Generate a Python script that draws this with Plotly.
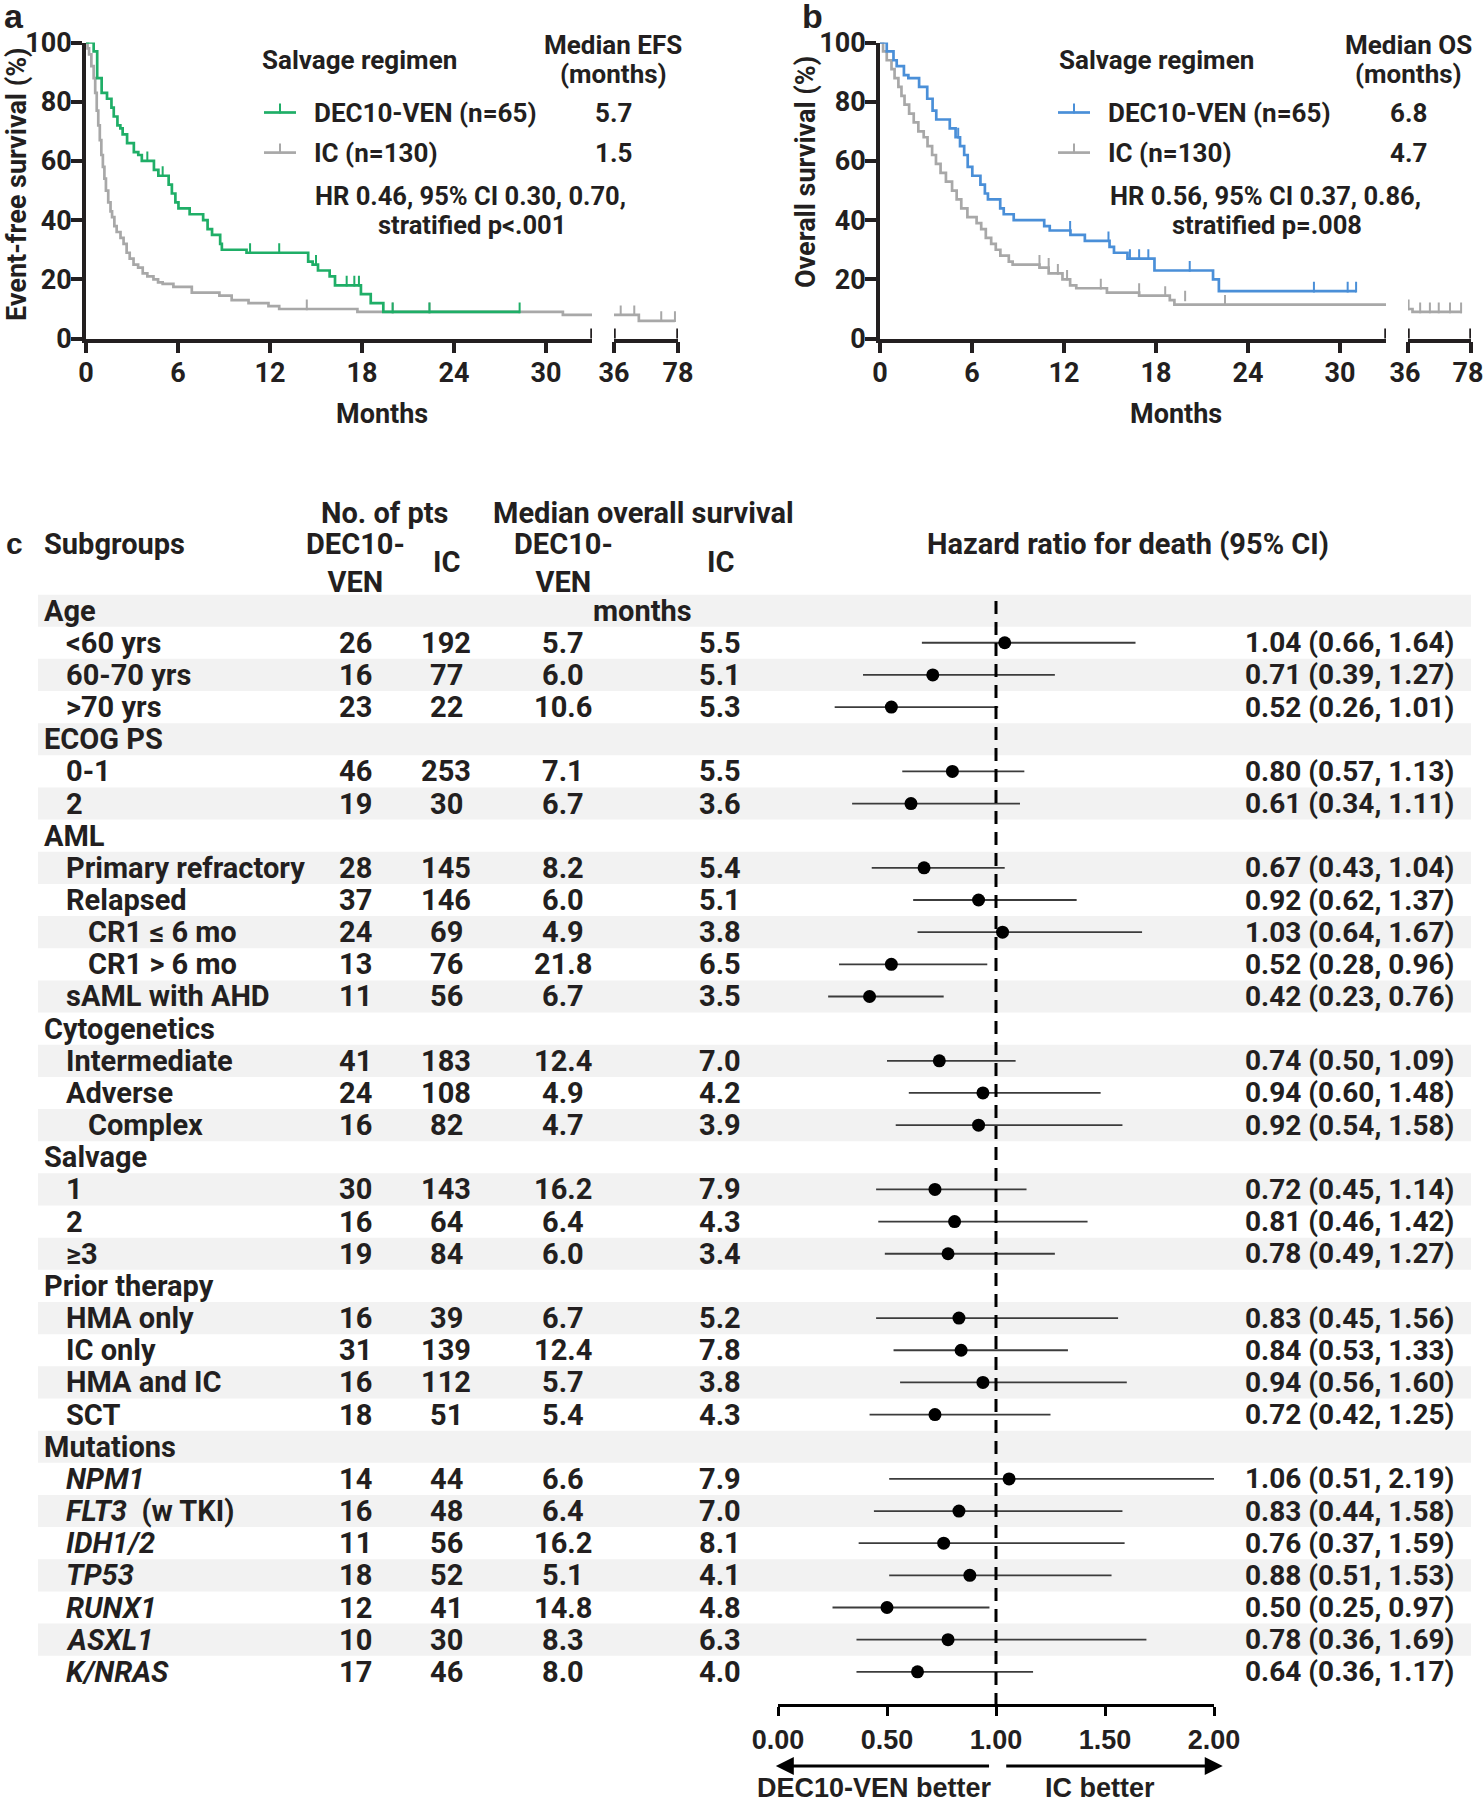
import plotly.graph_objects as go

# canvas size in px, layout below is placed in px and converted to paper units
W, H = 1484, 1800
INK = '#231f20'
GREEN = '#1fae67'
BLUE = '#4a8fd8'
GREY = '#a8a8a8'
BAND = '#f2f2f2'
NARROW = 'Roboto, Liberation Sans, sans-serif'
WIDE = 'Liberation Sans, Arial, sans-serif'


def px(x):
    return x / W


def py(y):
    return 1 - y / H


# ---- panel a: event-free survival (months, %) ----
efs_dec_t = [0, 0.5, 0.73, 1.02, 1.37, 1.66, 1.81, 2.05, 2.24, 2.39, 2.68, 3.12, 3.41, 3.64, 4.43,
             4.72, 5.39, 5.6, 5.83, 6.03, 6.76, 7.64, 7.93, 8.22, 8.75, 8.86, 10.47, 14.49, 14.78,
             15.13, 15.89, 16.24, 17.93, 18.57, 19.39, 28.28]
efs_dec_s = [100, 97, 88, 83, 81, 78, 75, 72, 71, 69, 66, 63, 62, 60, 57,
             55, 52, 49, 46, 44, 42, 40, 37, 35, 32, 30, 29, 26, 25,
             23, 21, 18, 15, 12, 9, 9]
efs_dec_cens_t = [4.0, 5.0, 10.7, 12.6, 15.0, 17.0, 17.5, 17.8, 20.0, 22.4, 28.28]
efs_dec_cens_s = [60, 55, 29, 29, 25, 18, 18, 18, 9, 9, 9]

efs_ic_t = [0, 0.1, 0.2, 0.35, 0.5, 0.6, 0.7, 0.8, 0.9, 1.0, 1.1, 1.2, 1.3, 1.45, 1.6, 1.7, 1.85,
            2.0, 2.25, 2.45, 2.65, 2.85, 3.1, 3.4, 3.7, 4.0, 4.4, 4.7, 5.0, 5.7, 6.9, 8.7, 9.5,
            10.6, 11.9, 12.6, 17.7, 31.1, 52.3, 76]
efs_ic_s = [100, 98, 96, 92, 88, 83, 77, 72, 67, 62, 58, 54, 50, 46, 43, 41, 38,
            36, 34, 32, 29, 27, 25, 24, 22, 21, 20, 19, 18.5, 17.5, 15.5, 14.5, 13,
            12, 11, 10, 9, 8, 6, 6]
efs_ic_cens_t = [14.4, 20.0, 22.4, 40.4, 49.3, 67, 76]
efs_ic_cens_s = [10, 9, 9, 8, 8, 6, 6]

# ---- panel b: overall survival (months, %) ----
os_dec_t = [0, 0.44, 0.88, 1.09, 1.56, 1.85, 2.55, 3.08, 3.43, 3.67, 4.55, 4.93, 5.22, 5.49, 5.72,
            6.02, 6.55, 6.84, 7.04, 7.84, 8.07, 8.72, 10.71, 11.07, 12.42, 13.36, 14.97, 15.26,
            16.14, 17.9, 21.72, 22.1, 31.05]
os_dec_s = [100, 97, 94, 92, 89, 88, 85, 81, 77, 74, 71, 68, 65, 62, 58,
            55, 52, 49, 47, 44, 42, 40, 38, 36.5, 35, 33, 31, 29,
            27, 23, 20, 16, 16]
os_dec_cens_t = [5.1, 6.0, 12.4, 14.9, 16.3, 16.9, 17.5, 20.2, 28.3, 30.5, 31.05]
os_dec_cens_s = [68, 55, 36.5, 33, 27, 27, 27, 23, 16, 16, 16]

os_ic_t = [0, 0.2, 0.44, 0.75, 0.95, 1.2, 1.4, 1.6, 1.9, 2.2, 2.5, 2.85, 3.1, 3.4, 3.65, 3.95, 4.3,
           4.7, 5.0, 5.3, 5.7, 6.3, 6.6, 6.9, 7.25, 7.55, 7.85, 8.4, 8.65, 10.4, 11.0, 11.9, 12.4,
           12.8, 14.8, 16.9, 18.9, 19.2, 35.5, 39.0, 72.0]
os_ic_s = [100, 97, 94, 91, 88, 85, 82, 79, 76, 73, 70, 68, 65, 62, 59, 56, 53,
           50, 47, 44, 41, 39, 37, 34, 32, 30, 28, 26, 25, 24, 22, 20, 18,
           17, 15.5, 14.5, 13, 11.5, 10, 9, 9]
os_ic_cens_t = [10.4, 11.0, 11.6, 12.2, 14.4, 16.9, 18.6, 19.9, 22.5, 36.4, 44.1, 50.6, 56.5, 64, 71.4]
os_ic_cens_s = [25, 24, 22, 20, 17, 15.5, 14.5, 13, 11.5, 10, 9, 9, 9, 9, 9]

# ---- panel c: subgroup forest plot ----
labels = ['Age', '<60 yrs', '60-70 yrs', '>70 yrs', 'ECOG PS', '0-1', '2', 'AML',
          'Primary refractory', 'Relapsed', 'CR1 \u2264 6 mo', 'CR1 > 6 mo', 'sAML with AHD',
          'Cytogenetics', 'Intermediate', 'Adverse', 'Complex', 'Salvage', '1', '2', '\u22653',
          'Prior therapy', 'HMA only', 'IC only', 'HMA and IC', 'SCT', 'Mutations',
          '<i>NPM1</i>', '<i>FLT3</i>\u00a0 (w TKI)', '<i>IDH1/2</i>', '<i>TP53</i>',
          '<i>RUNX1</i>', '<i>ASXL1</i>', '<i>K/NRAS</i>']
levels = [0, 1, 1, 1, 0, 1, 1, 0, 1, 1, 2, 2, 1, 0, 1, 1, 2, 0, 1, 1, 1, 0, 1, 1, 1, 1, 0,
          1, 1, 1, 1, 1, 1, 1]
n_dec = [None, 26, 16, 23, None, 46, 19, None, 28, 37, 24, 13, 11, None, 41, 24, 16, None, 30, 16, 19,
         None, 16, 31, 16, 18, None, 14, 16, 11, 18, 12, 10, 17]
n_ic = [None, 192, 77, 22, None, 253, 30, None, 145, 146, 69, 76, 56, None, 183, 108, 82, None, 143, 64,
        84, None, 39, 139, 112, 51, None, 44, 48, 56, 52, 41, 30, 46]
med_dec = [None, 5.7, 6.0, 10.6, None, 7.1, 6.7, None, 8.2, 6.0, 4.9, 21.8, 6.7, None, 12.4, 4.9, 4.7,
           None, 16.2, 6.4, 6.0, None, 6.7, 12.4, 5.7, 5.4, None, 6.6, 6.4, 16.2, 5.1, 14.8, 8.3, 8.0]
med_ic = [None, 5.5, 5.1, 5.3, None, 5.5, 3.6, None, 5.4, 5.1, 3.8, 6.5, 3.5, None, 7.0, 4.2, 3.9,
          None, 7.9, 4.3, 3.4, None, 5.2, 7.8, 3.8, 4.3, None, 7.9, 7.0, 8.1, 4.1, 4.8, 6.3, 4.0]
hr = [None, 1.04, 0.71, 0.52, None, 0.80, 0.61, None, 0.67, 0.92, 1.03, 0.52, 0.42, None, 0.74, 0.94,
      0.92, None, 0.72, 0.81, 0.78, None, 0.83, 0.84, 0.94, 0.72, None, 1.06, 0.83, 0.76, 0.88, 0.50,
      0.78, 0.64]
hr_lo = [None, 0.66, 0.39, 0.26, None, 0.57, 0.34, None, 0.43, 0.62, 0.64, 0.28, 0.23, None, 0.50, 0.60,
         0.54, None, 0.45, 0.46, 0.49, None, 0.45, 0.53, 0.56, 0.42, None, 0.51, 0.44, 0.37, 0.51, 0.25,
         0.36, 0.36]
hr_hi = [None, 1.64, 1.27, 1.01, None, 1.13, 1.11, None, 1.04, 1.37, 1.67, 0.96, 0.76, None, 1.09, 1.48,
         1.58, None, 1.14, 1.42, 1.27, None, 1.56, 1.33, 1.60, 1.25, None, 2.19, 1.58, 1.59, 1.53, 0.97,
         1.69, 1.17]
hr_ticks = [0, 0.5, 1, 1.5, 2]

rows = list(range(len(labels)))

fig = go.Figure()


def km_traces(t, s, ct, cs, color, xa):
    # step curve plus censor ticks (drawn as one-sided error bars)
    fig.add_trace(go.Scatter(x=t, y=s, mode='lines', line=dict(color=color, width=2.7, shape='hv'),
                             xaxis=xa[0], yaxis=xa[1], showlegend=False, hoverinfo='skip'))
    fig.add_trace(go.Scatter(x=ct, y=cs, mode='markers', marker=dict(size=1, color=color),
                             error_y=dict(type='data', symmetric=False, array=[3.2] * len(ct),
                                          arrayminus=[0.4] * len(ct), width=0, thickness=2, color=color),
                             xaxis=xa[0], yaxis=xa[1], showlegend=False, hoverinfo='skip'))


for xa in [('x', 'y'), ('x2', 'y')]:
    km_traces(efs_ic_t, efs_ic_s, efs_ic_cens_t, efs_ic_cens_s, GREY, xa)
    km_traces(efs_dec_t, efs_dec_s, efs_dec_cens_t, efs_dec_cens_s, GREEN, xa)
for xa in [('x3', 'y2'), ('x4', 'y2')]:
    km_traces(os_ic_t, os_ic_s, os_ic_cens_t, os_ic_cens_s, GREY, xa)
    km_traces(os_dec_t, os_dec_s, os_dec_cens_t, os_dec_cens_s, BLUE, xa)

# forest points with CI whiskers
fig.add_trace(go.Scatter(
    x=hr, y=rows, mode='markers', xaxis='x5', yaxis='y3',
    marker=dict(color='black', size=13),
    error_x=dict(type='data', symmetric=False,
                 array=[None if h is None else round(b - h, 3) for h, b in zip(hr, hr_hi)],
                 arrayminus=[None if h is None else round(h - a, 3) for h, a in zip(hr, hr_lo)],
                 width=0, thickness=1.8, color='#3c3c3c'),
    showlegend=False, hoverinfo='skip'))

tickfont = dict(family=NARROW, size=27, color=INK, weight='bold')
surv_x = dict(showline=True, linewidth=3.5, linecolor=INK, ticks='outside', ticklen=11, tickwidth=3.5,
              tickcolor=INK, showgrid=False, zeroline=False, tickfont=tickfont, fixedrange=True,
              automargin=False, ticklabelstandoff=-4, ticklabeloverflow='allow')
surv_y = dict(range=[0, 100], tickvals=[0, 20, 40, 60, 80, 100], showline=True, linewidth=3.5,
              linecolor=INK, ticks='outside', ticklen=11, tickwidth=3.5, tickcolor=INK, showgrid=False,
              zeroline=False, tickfont=tickfont, domain=[py(338.6), py(42.5)], automargin=False,
              ticklabelstandoff=-6, ticklabeloverflow='allow')

fig.update_layout(
    width=W, height=H, margin=dict(l=0, r=0, t=0, b=0, autoexpand=False),
    paper_bgcolor='white', plot_bgcolor='rgba(0,0,0,0)',
    font=dict(family=NARROW, size=29, color=INK, weight='bold'),
    xaxis=dict(surv_x, domain=[px(86), px(592)], range=[0, 33], tickvals=[0, 6, 12, 18, 24, 30], anchor='y'),
    xaxis2=dict(surv_x, domain=[px(614), px(678)], range=[36, 78], tickvals=[36, 78], anchor='y'),
    yaxis=dict(surv_y, anchor='x'),
    xaxis3=dict(surv_x, domain=[px(880), px(1386)], range=[0, 33], tickvals=[0, 6, 12, 18, 24, 30], anchor='y2'),
    xaxis4=dict(surv_x, domain=[px(1408), px(1471)], range=[36, 78], tickvals=[36, 78], anchor='y2',
                ticklabelshift=-3),
    yaxis2=dict(surv_y, anchor='x3'),
    xaxis5=dict(domain=[px(778), px(1214)], range=[0, 2], tickvals=hr_ticks,
                ticktext=['%.2f' % v for v in hr_ticks], anchor='y3', showline=True, linewidth=3.2,
                linecolor='black', ticks='outside', ticklen=9, tickwidth=3.2, tickcolor='black',
                showgrid=False, zeroline=False, fixedrange=True, automargin=False,
                tickfont=dict(family=WIDE, size=27, color=INK, weight='bold')),
    yaxis3=dict(domain=[py(1704), py(594.5)], range=[34.0, -0.5], visible=False, anchor='x5',
                automargin=False),
)

shapes = []
# alternating row bands
for i in rows:
    if i % 2 == 0:
        shapes.append(dict(type='rect', xref='paper', yref='y3', x0=px(38), x1=px(1471), y0=i - 0.5,
                           y1=i + 0.5, fillcolor=BAND, line=dict(width=0), layer='below'))
# reference line at HR = 1
shapes.append(dict(type='line', xref='x5', yref='y3', x0=1, x1=1, y0=-0.3, y1=34.0,
                   line=dict(color='black', width=3, dash='13px,8px')))
# axis break caps
for xr, yr, xv in [('x', 'y', 33), ('x2', 'y', 36), ('x2', 'y', 78),
                   ('x3', 'y2', 33), ('x4', 'y2', 36), ('x4', 'y2', 78)]:
    shapes.append(dict(type='line', xref=xr, yref=yr, x0=xv, x1=xv, ysizemode='pixel', yanchor=0,
                       y0=-10, y1=10, line=dict(color=INK, width=3.5)))
# legend swatches
for x0, col, y in [(264, GREEN, 112.5), (264, GREY, 152.6), (1058, BLUE, 112.5), (1058, GREY, 152.6)]:
    shapes.append(dict(type='line', xref='paper', yref='paper', x0=px(x0), x1=px(x0 + 32), y0=py(y), y1=py(y),
                       line=dict(color=col, width=2.7)))
    shapes.append(dict(type='line', xref='paper', yref='paper', x0=px(x0 + 16), x1=px(x0 + 16), y0=py(y + 1),
                       y1=py(y - 9), line=dict(color=col, width=2)))
fig.update_layout(shapes=shapes)

ann = []


def txt(x, y, s, size=29, xanchor='center', family=NARROW, angle=0, yref='paper'):
    ann.append(dict(x=px(x), y=py(y) if yref == 'paper' else y, xref='paper', yref=yref, text=s,
                    showarrow=False, xanchor=xanchor, yanchor='middle', textangle=angle,
                    font=dict(family=family, size=size, color=INK)))


# panel letters
txt(2, 16, 'a', size=34, xanchor='left', family=WIDE)
txt(800, 16, 'b', size=34, xanchor='left', family=WIDE)
txt(4, 544, 'c', size=30, xanchor='left', family=WIDE)

# panel a texts
txt(17, 184, 'Event-free survival (%)', size=27, angle=-90)
txt(382, 414, 'Months', size=27)
txt(359, 60, 'Salvage regimen', size=26)
txt(613, 45, 'Median EFS', size=26)
txt(613, 74, '(months)', size=26)
txt(312, 112.5, 'DEC10-VEN (n=65)', size=26, xanchor='left')
txt(312, 152.6, 'IC (n=130)', size=26, xanchor='left')
txt(613, 112.5, '5.7', size=26)
txt(613, 152.6, '1.5', size=26)
txt(470, 196, 'HR 0.46, 95% CI 0.30, 0.70,', size=25.5)
txt(472, 225, 'stratified p<.001', size=25.5)

# panel b texts
txt(806, 172, 'Overall survival (%)', size=27, angle=-90)
txt(1176, 414, 'Months', size=27)
txt(1156, 60, 'Salvage regimen', size=26)
txt(1408, 45, 'Median OS', size=26)
txt(1408, 74, '(months)', size=26)
txt(1106, 112.5, 'DEC10-VEN (n=65)', size=26, xanchor='left')
txt(1106, 152.6, 'IC (n=130)', size=26, xanchor='left')
txt(1408, 112.5, '6.8', size=26)
txt(1408, 152.6, '4.7', size=26)
txt(1265, 196, 'HR 0.56, 95% CI 0.37, 0.86,', size=25.5)
txt(1267, 225, 'stratified p=.008', size=25.5)

# forest header
txt(384, 513, 'No. of pts')
txt(643, 513, 'Median overall survival')
txt(42, 544, 'Subgroups', xanchor='left')
txt(355, 563, 'DEC10-<br>VEN')
txt(446, 562, 'IC')
txt(563, 563, 'DEC10-<br>VEN')
txt(720, 562, 'IC')
txt(1128, 544, 'Hazard ratio for death (95% CI)')
txt(642, 0, 'months', yref='y3')

indent = [42, 64, 86]
for i in rows:
    txt(indent[levels[i]], i, labels[i], xanchor='left', yref='y3')
    if hr[i] is None:
        continue
    txt(355, i, str(n_dec[i]), yref='y3')
    txt(446, i, str(n_ic[i]), yref='y3')
    txt(563, i, '%.1f' % med_dec[i], yref='y3')
    txt(720, i, '%.1f' % med_ic[i], yref='y3')
    txt(1456, i, '%.2f (%.2f, %.2f)' % (hr[i], hr_lo[i], hr_hi[i]), size=28, xanchor='right', yref='y3')

# direction arrows under the HR axis
for head, tail in [(-0.01, 0.975), (2.04, 1.04)]:
    ann.append(dict(x=head, y=py(1766), xref='x5', yref='paper', ax=tail, ay=0, axref='x5', ayref='pixel',
                    showarrow=True, arrowhead=2, arrowsize=1.2, arrowwidth=3, arrowcolor='black', text=''))
txt(874, 1788, 'DEC10-VEN better', size=27, family=WIDE)
txt(1100, 1788, 'IC better', size=27, family=WIDE)

fig.update_layout(annotations=ann)
# drop the default page margin so the figure sits at the window's top-left corner
fig.write_html('out.html', config={'displayModeBar': False},
               post_script="document.body.style.margin='0';document.body.style.overflow='hidden';")
